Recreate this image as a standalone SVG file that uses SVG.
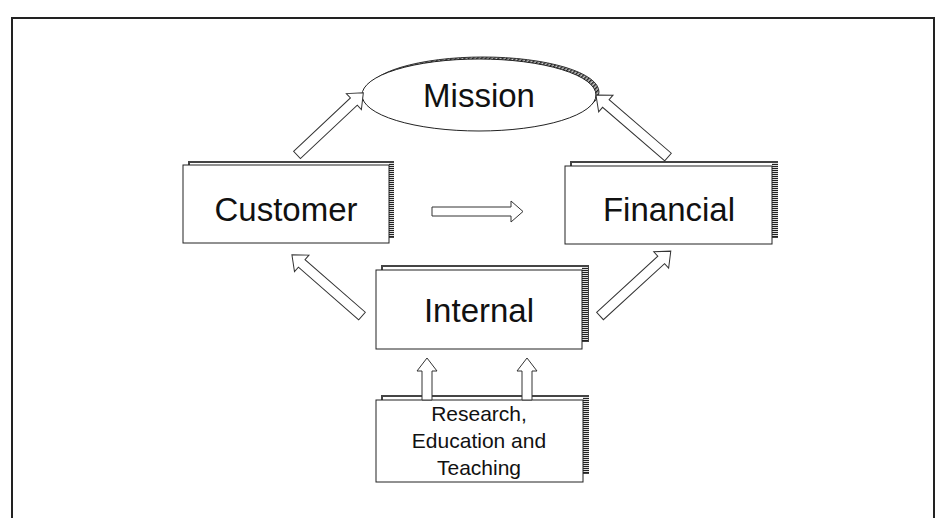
<svg xmlns="http://www.w3.org/2000/svg" width="938" height="518" viewBox="0 0 938 518">
<defs>
<pattern id="hatch" width="4" height="2" patternUnits="userSpaceOnUse"><rect width="4" height="2" fill="#ddd"/><rect width="4" height="1" fill="#222"/></pattern>
<pattern id="dhatch" width="3" height="3" patternUnits="userSpaceOnUse" patternTransform="rotate(45)"><rect width="3" height="3" fill="#ccc"/><rect width="1.5" height="3" fill="#222"/></pattern>
</defs>
<style>
.frame{fill:none;stroke:#222;stroke-width:2}
.box{fill:#fff;stroke:#222;stroke-width:1}
.shadow{fill:#fff;stroke:#444;stroke-width:2}
.strip{fill:url(#hatch)}
.lbl{font-family:"Liberation Sans",Arial,sans-serif;font-size:33px;fill:#111;text-anchor:middle}
.small{font-size:21px}
.arrow{fill:#fff;stroke:#333;stroke-width:1;stroke-linejoin:miter}
</style>
<rect width="938" height="518" fill="#fff"/>
<path class="frame" d="M12,518 V18 H934 V518"/>

<g id="mission">
<ellipse cx="483" cy="92" rx="116" ry="35" fill="url(#dhatch)" stroke="#333" stroke-width="1"/>
<ellipse class="box" cx="479" cy="95" rx="117" ry="36"/>
<text class="lbl" x="479" y="107">Mission</text>
</g>

<g id="customer">
<rect class="shadow" x="189" y="162" width="204" height="75"/>
<rect class="strip" x="389" y="163" width="5" height="74"/>
<rect class="box" x="183" y="165" width="206" height="78"/>
<text class="lbl" x="286" y="221">Customer</text>
</g>

<g id="financial">
<rect class="shadow" x="571" y="162" width="206" height="75"/>
<rect class="strip" x="772" y="163" width="6" height="74"/>
<rect class="box" x="565" y="166" width="207" height="78"/>
<text class="lbl" x="669" y="221">Financial</text>
</g>

<g id="internal">
<rect class="shadow" x="382" y="266" width="206" height="75"/>
<rect class="strip" x="582" y="267" width="6" height="74"/>
<rect class="box" x="376" y="270" width="206" height="79"/>
<text class="lbl" x="479" y="322">Internal</text>
</g>

<g id="research">
<rect class="shadow" x="382" y="396" width="206" height="77"/>
<rect class="strip" x="583" y="397" width="6" height="76"/>
<rect class="box" x="376" y="400" width="207" height="82"/>
<text class="lbl small" x="479" y="421">Research,</text>
<text class="lbl small" x="479" y="448">Education and</text>
<text class="lbl small" x="479" y="475">Teaching</text>
</g>

<g id="connectors">
<path class="arrow" transform="translate(297,155) rotate(-43.2)" d="M0,-5 H78 V-11 L91,0 L78,11 V5 H0 Z"/>
<path class="arrow" transform="translate(668,157) rotate(-139.3)" d="M0,-5 H82 V-11 L95,0 L82,11 V5 H0 Z"/>
<path class="arrow" transform="translate(432,211.5)" d="M0,-4.5 H79 V-10.5 L91,0 L79,10.5 V4.5 H0 Z"/>
<path class="arrow" transform="translate(362,316) rotate(-138.9)" d="M0,-5 H80 V-11 L93,0 L80,11 V5 H0 Z"/>
<path class="arrow" transform="translate(600,316) rotate(-42.5)" d="M0,-5 H83 V-11 L96,0 L83,11 V5 H0 Z"/>
<path class="arrow" transform="translate(427,400) rotate(-90)" d="M0,-5 H29 V-10 L42,0 L29,10 V5 H0 Z"/>
<path class="arrow" transform="translate(527,400) rotate(-90)" d="M0,-5 H29 V-10 L42,0 L29,10 V5 H0 Z"/>
</g>
</svg>
